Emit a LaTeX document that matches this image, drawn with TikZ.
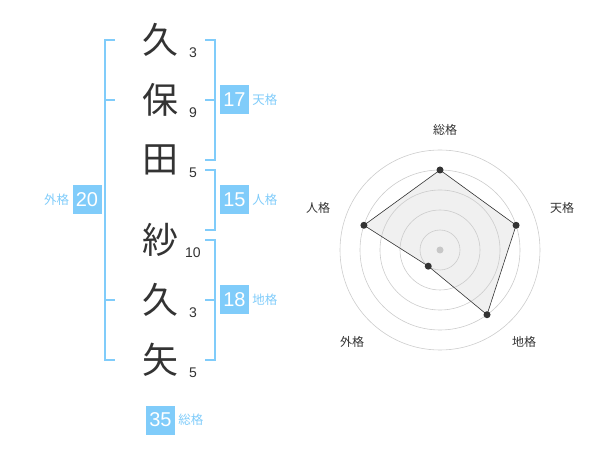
\documentclass[tikz,border=0pt]{standalone}
\usepackage{fontspec}
\setmainfont{Liberation Sans}
\newfontfamily\jp{Noto Sans CJK JP}
\usetikzlibrary{positioning}
\definecolor{kaku}{HTML}{80CCFA}
\definecolor{ink}{HTML}{333333}

\begin{document}
\begin{tikzpicture}[
  x=1pt, y=-1pt,
  kanji/.style = {text=ink, font=\jp\fontsize{36}{36}\selectfont, inner sep=0pt},
  stroke/.style = {text=ink, font=\fontsize{14}{14}\selectfont, inner sep=0pt},
  badge/.style = {fill=kaku, text=white, minimum size=29pt, inner sep=0pt, font=\fontsize{20}{20}\selectfont},
  tag/.style = {text=kaku, font=\jp\fontsize{12.5}{12.5}\selectfont, inner sep=1pt},
  brace/.style = {draw=kaku, line width=2pt},
  ring/.style = {draw=black!20, line width=0.6pt},
  axis/.style = {text=ink, font=\jp\fontsize{12}{12}\selectfont},
  dot/.style = {circle, fill=ink, inner sep=0pt, minimum size=7pt}
]
  \useasboundingbox (0,0) rectangle (600,470);

  % Name, one character per line
  \foreach \ch/\y/\n [count=\i] in {久/40/3, 保/100/9, 田/160/5, 紗/240/10, 久/300/3, 矢/360/5} {
    \node[kanji] (c\i) at (160,\y) {\ch};
    \node[stroke] (s\i) at (193,\y+13) {\n};
  }

  % Outer bracket (gaikaku)
  \coordinate (gai-top) at (105,40);
  \coordinate (gai-bot) at (105,360);
  \draw[brace] ([xshift=10]gai-top) -- (gai-top) -- (gai-bot) -- ([xshift=10]gai-bot);
  \draw[brace] (105,100) -- (115,100);
  \draw[brace] (105,300) -- (115,300);
  \node[badge] (gai) at (87,200) {20};
  \node[tag, left=2pt of gai] (gai-tag) {外格};

  % Tenkaku
  \coordinate (ten-top) at (215,40);
  \coordinate (ten-bot) at (215,160);
  \draw[brace] ([xshift=-10]ten-top) -- (ten-top) -- (ten-bot) -- ([xshift=-10]ten-bot);
  \draw[brace] (215,100) -- (205,100);
  \node[badge] (ten) at (234.5,100) {17};
  \node[tag, right=2pt of ten] (ten-tag) {天格};

  % Jinkaku
  \coordinate (jin-top) at (215,170);
  \coordinate (jin-bot) at (215,230);
  \draw[brace] ([xshift=-10]jin-top) -- (jin-top) -- (jin-bot) -- ([xshift=-10]jin-bot);
  \node[badge] (jin) at (234.5,200) {15};
  \node[tag, right=2pt of jin] (jin-tag) {人格};

  % Chikaku
  \coordinate (chi-top) at (215,240);
  \coordinate (chi-bot) at (215,360);
  \draw[brace] ([xshift=-10]chi-top) -- (chi-top) -- (chi-bot) -- ([xshift=-10]chi-bot);
  \draw[brace] (215,300) -- (205,300);
  \node[badge] (chi) at (234.5,300) {18};
  \node[tag, right=2pt of chi] (chi-tag) {地格};

  % Soukaku
  \node[badge] (sou) at (160.5,420) {35};
  \node[tag, right=2pt of sou] (sou-tag) {総格};

  % Radar chart
  \coordinate (o) at (440,250);
  \path (o) ++(-90:80) coordinate (p-sou)
        (o) ++(-18:80) coordinate (p-ten)
        (o) ++(54:80) coordinate (p-chi)
        (o) ++(126:20) coordinate (p-gai)
        (o) ++(-162:80) coordinate (p-jin);
  \fill[black!6] (p-sou) -- (p-ten) -- (p-chi) -- (p-gai) -- (p-jin) -- cycle;
  \foreach \r in {20,40,...,100}
    \draw[ring] (o) circle[radius=\r];
  \fill[black!22] (o) circle[radius=3.5];
  \draw[line width=0.6pt, draw=ink]
    (p-sou) -- (p-ten) -- (p-chi) -- (p-gai) -- (p-jin) -- cycle;
  \foreach \p in {sou,ten,chi,gai,jin}
    \node[dot] at (p-\p) {};

  \node[axis] (a-sou) at (445,130) {総格};
  \node[axis] (a-ten) at (562,208) {天格};
  \node[axis] (a-chi) at (524,342) {地格};
  \node[axis] (a-gai) at (352,342) {外格};
  \node[axis] (a-jin) at (318,208) {人格};
\end{tikzpicture}
\end{document}
